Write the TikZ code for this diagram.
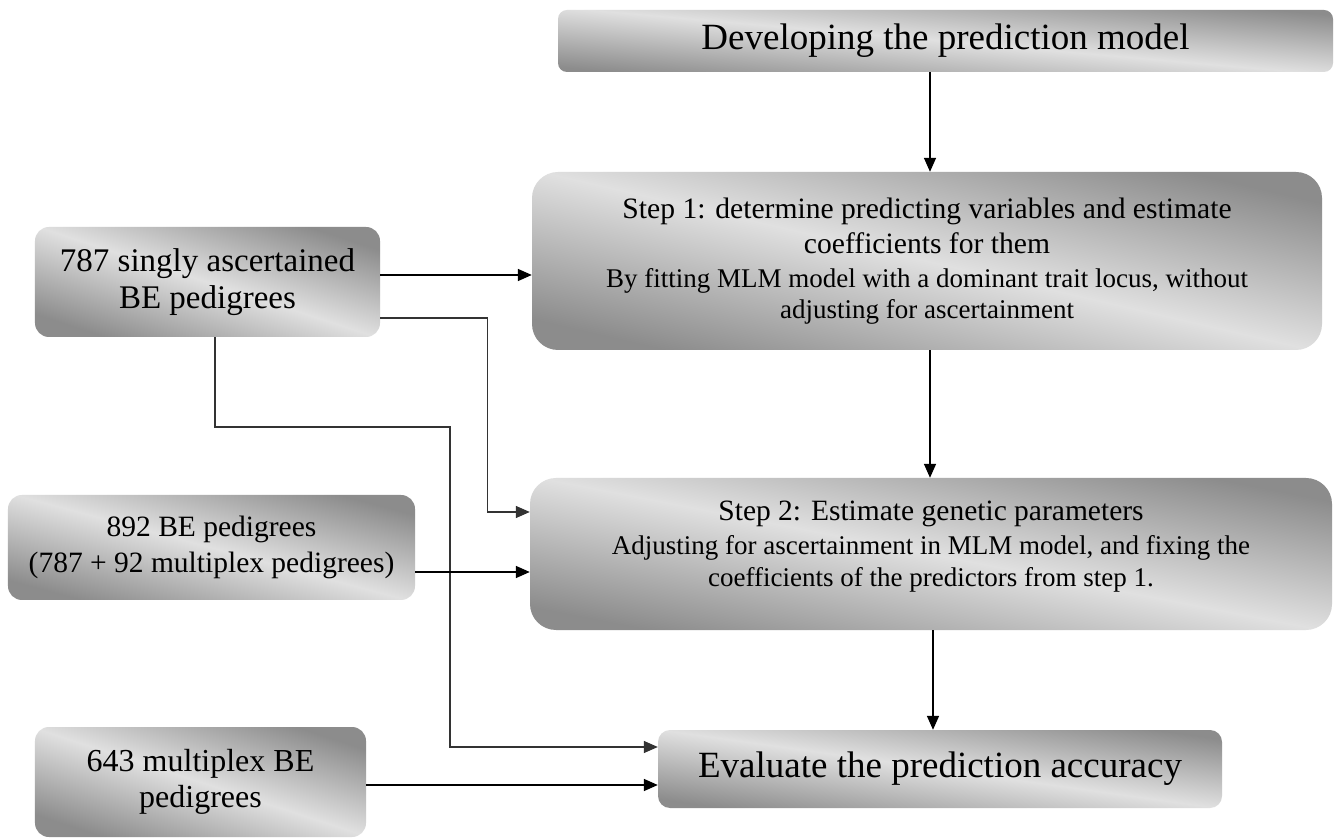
\documentclass[tikz,border=0pt]{standalone}
\usepackage{fontspec}
\setmainfont{Liberation Serif}
\usetikzlibrary{arrows.meta}
\definecolor{boxdark}{RGB}{140,140,140}
\definecolor{boxlight}{RGB}{224,224,224}
\tikzset{
  gbox/.style={draw=none, shading=axis, top color=boxdark, bottom color=boxdark,
    middle color=boxlight, shading angle=#1, align=center, inner sep=0pt},
  arr/.style={draw=black, line width=1.6bp, -{Triangle[length=14bp,width=12bp]}},
  lin/.style={draw=black!80, line width=1.4bp, -{Triangle[length=14bp,width=12bp]}}
}
\newcommand{\subfs}{\fontsize{27bp}{32bp}\selectfont}
\begin{document}
\begin{tikzpicture}[x=1bp,y=1bp]
\useasboundingbox[fill=white] (0,0) rectangle (1340,837);

\node[gbox=-5, rounded corners=9bp, minimum width=775bp, minimum height=62bp,
  font=\fontsize{37bp}{42bp}\selectfont] (dev) at (945.5,796) {\raisebox{-3bp}{Developing the prediction model}};

\node[gbox=-13, rounded corners=26bp, minimum width=790bp, minimum height=178bp,
  font=\fontsize{29.6bp}{35bp}\selectfont] (step1) at (927,576)
 {Step 1: determine predicting variables and estimate\\[0bp]
  coefficients for them\\[-1bp]
  \subfs By fitting MLM model with a dominant trait locus, without\\[-4bp]
  \subfs adjusting for ascertainment};

\node[gbox=-11, rounded corners=26bp, minimum width=802bp, minimum height=152bp,
  font=\fontsize{29.5bp}{35bp}\selectfont] (step2) at (931,283)
 {Step 2: Estimate genetic parameters\\[-1bp]
  \subfs Adjusting for ascertainment in MLM model, and fixing the\\[-3bp]
  \subfs coefficients of the predictors from step 1.\\[-14bp]};

\node[gbox=-8, rounded corners=12bp, minimum width=564bp, minimum height=78bp,
  font=\fontsize{37bp}{42bp}\selectfont] (eval) at (940,68) {Evaluate the prediction accuracy};

\node[gbox=-18, rounded corners=14bp, minimum width=345bp, minimum height=110bp,
  font=\fontsize{33bp}{37bp}\selectfont] (b787) at (207.5,555) {787 singly ascertained\\BE pedigrees};

\node[gbox=-15, rounded corners=14bp, minimum width=407bp, minimum height=105bp,
  font=\fontsize{29.5bp}{36bp}\selectfont] (b892) at (211.5,289.5) {892 BE pedigrees\\(787 + 92 multiplex pedigrees)};

\node[gbox=-18, rounded corners=14bp, minimum width=331bp, minimum height=110bp,
  font=\fontsize{32bp}{36bp}\selectfont] (b643) at (200.5,55) {643 multiplex BE\\pedigrees};

% vertical flow
\draw[arr] ([xshift=3bp]step1.north |- dev.south) -- ([xshift=3bp]step1.north);
\draw[arr] ([xshift=3bp]step1.south) -- ([xshift=3bp]step1.south |- step2.north);
\draw[arr] ([xshift=2bp]step2.south) -- ([xshift=2bp]step2.south |- eval.north);

% inputs
\draw[arr] ([yshift=7bp]b787.east) -- ([yshift=7bp]b787.east -| step1.west);
\draw[lin] ([yshift=-36bp]b787.east) -- ++(107,0) |- ([yshift=42bp]step2.west);
\draw[lin] ([xshift=7.5bp]b787.south) -- ++(0,-90) -- ++(235,0) |- ([yshift=22bp]eval.west);
\draw[arr] ([yshift=-24.5bp]b892.east) -- ([yshift=-24.5bp]b892.east -| step2.west);
\draw[arr] ([yshift=-3bp]b643.east) -- ([yshift=-3bp]b643.east -| eval.west);
\end{tikzpicture}
\end{document}
